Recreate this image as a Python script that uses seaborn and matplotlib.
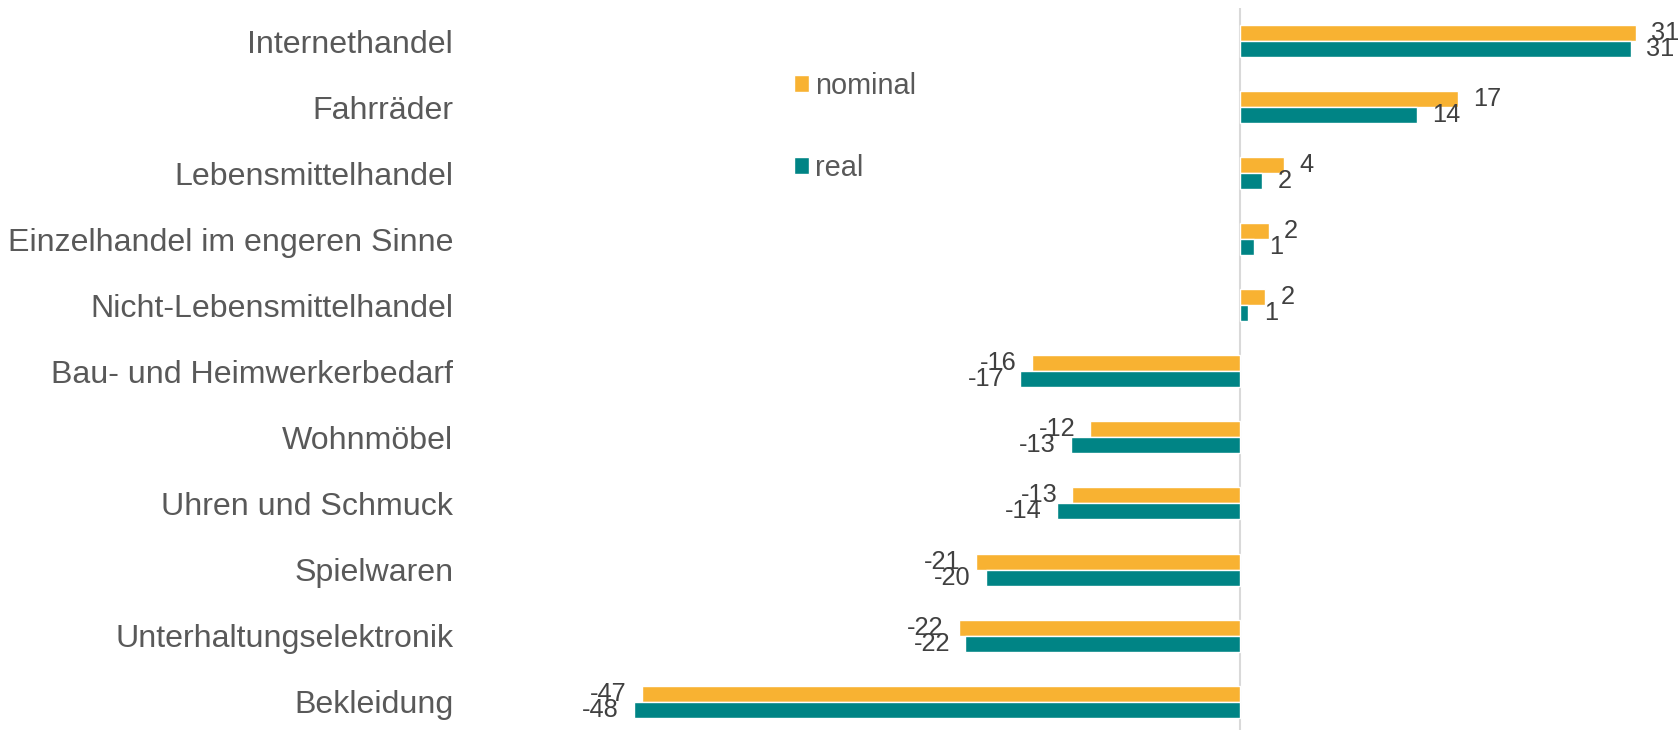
import matplotlib
matplotlib.use("Agg")
import matplotlib.pyplot as plt
import seaborn as sns
import pandas as pd

categories = ["Internethandel", "Fahrräder", "Lebensmittelhandel",
              "Einzelhandel im engeren Sinne", "Nicht-Lebensmittelhandel",
              "Bau- und Heimwerkerbedarf", "Wohnmöbel", "Uhren und Schmuck",
              "Spielwaren", "Unterhaltungselektronik", "Bekleidung"]
nominal = [31.1, 17.1, 3.5, 2.3, 2.0, -16.3, -11.7, -13.1, -20.7, -22.0, -46.9]
real = [30.7, 13.9, 1.8, 1.1, 0.7, -17.2, -13.2, -14.3, -19.9, -21.5, -47.5]
nominal_labels = [31, 17, 4, 2, 2, -16, -12, -13, -21, -22, -47]
real_labels = [31, 14, 2, 1, 1, -17, -13, -14, -20, -22, -48]
series_names = ["nominal", "real"]
colors = ["#F8B232", "#008485"]

df = pd.DataFrame({
    "Kategorie": categories * 2,
    "Wert": nominal + real,
    "Serie": [series_names[0]] * len(categories) + [series_names[1]] * len(categories),
})

sns.set_style("white")
plt.rcParams["font.family"] = ["Liberation Sans", "DejaVu Sans"]

W, H = 1679, 730
fig = plt.figure(figsize=(W / 100, H / 100), dpi=100)

xmin, xmax = -59, 34
scale = 12.75
zero_px = 1239.5
left_px = zero_px + xmin * scale
width_px = (xmax - xmin) * scale
top_px = 8
bottom_px = 734.7
ax = fig.add_axes([left_px / W, (H - bottom_px) / H, width_px / W, (bottom_px - top_px) / H])

sns.barplot(data=df, x="Wert", y="Kategorie", hue="Serie", orient="h",
            palette=colors, width=0.485, ax=ax, saturation=1, legend=True)

ax.set_xlim(xmin, xmax)
ax.set_ylim(len(categories) - 0.5, -0.5)
ax.axvline(0, color="#D9D9D9", lw=1.5, zorder=0.5)

for cont, labs in zip(ax.containers, [nominal_labels, real_labels]):
    ax.bar_label(cont, labels=[str(v) for v in labs], padding=11,
                 fontsize=18.3, color="#404040")

for s in ax.spines.values():
    s.set_visible(False)
ax.set_xticks([])
ax.set_xlabel("")
ax.set_ylabel("")
ax.tick_params(axis="y", length=0, pad=24.5, labelsize=23.1, labelcolor="#595959")

handles, labels = ax.get_legend_handles_labels()
ax.legend(handles, labels, loc="upper left",
          bbox_to_anchor=(794 / W, 1 - 71.5 / H), bbox_transform=fig.transFigure,
          frameon=False, fontsize=20.8, handlelength=0.52, handleheight=0.52,
          handletextpad=0.2, labelspacing=1.87, borderpad=0, borderaxespad=0,
          labelcolor="#595959")

fig.savefig("out.png", dpi=100)
